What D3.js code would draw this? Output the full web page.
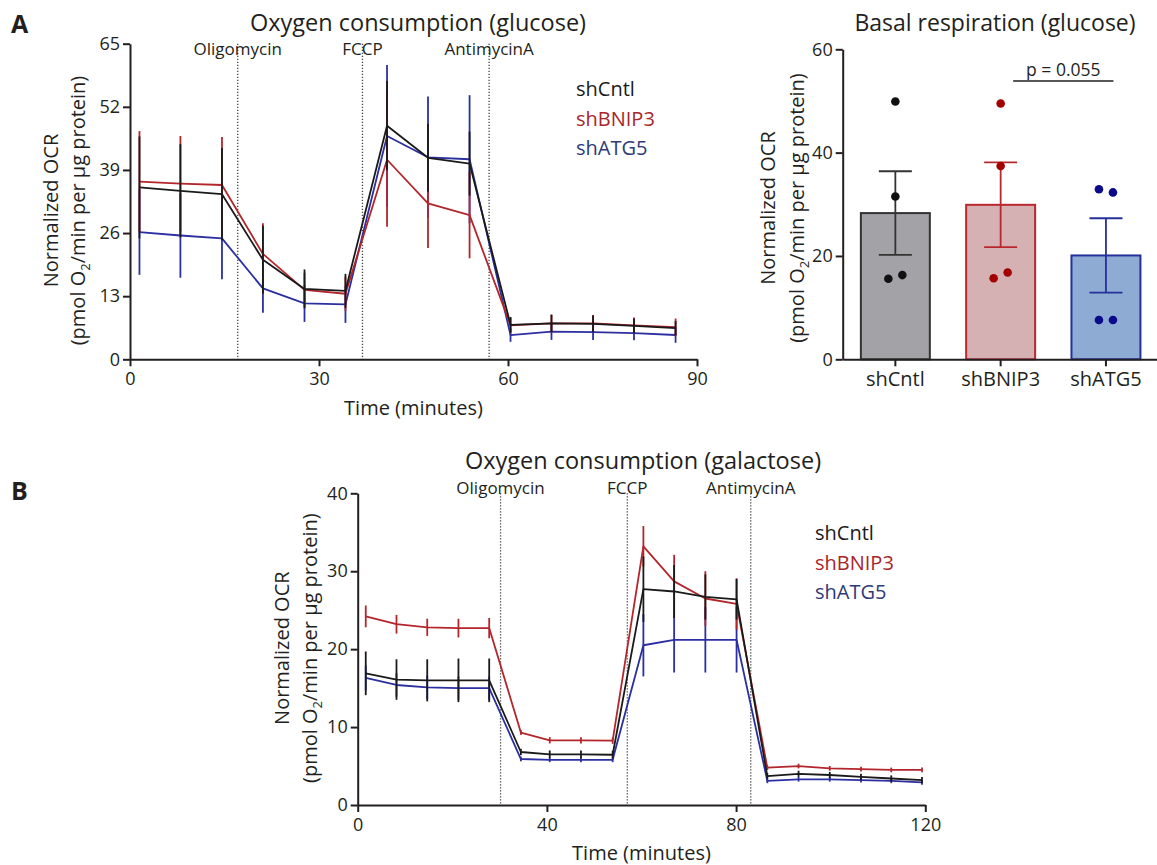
<!DOCTYPE html>
<html>
<head>
<meta charset="utf-8">
<script src="https://cdn.jsdelivr.net/npm/d3@7"></script>
<style>
  html, body { margin: 0; padding: 0; background: #fff; }
  svg text { font-family: "Open Sans", "Noto Sans", sans-serif; }
</style>
</head>
<body>
<svg id="fig" width="1157" height="865"></svg>
<script>
// ---------- Seahorse run, glucose medium (panel A, left) ----------
const timeA  = [1.5, 8.0, 14.6, 21.1, 27.7, 34.2, 40.8, 47.3, 53.9, 60.4, 66.9, 73.5, 80.0, 86.6];
const cntlA  = [35.4, 34.7, 34.0, 20.5, 14.5, 14.1, 48.1, 41.5, 40.3, 7.1, 7.4, 7.3, 6.9, 6.4];
const cntlAErr = [10.5, 9.6, 9.5, 7.0, 4.0, 3.5, 9.2, 7.0, 6.6, 1.6, 1.8, 1.7, 1.5, 1.5];
const bnipA  = [36.6, 36.2, 35.9, 21.7, 14.3, 13.5, 41.1, 32.1, 29.7, 7.0, 7.4, 7.4, 7.0, 6.6];
const bnipAErr = [10.4, 9.8, 9.9, 6.3, 3.5, 3.5, 13.8, 9.2, 8.9, 1.6, 1.8, 1.7, 1.6, 1.8];
const atgA   = [26.2, 25.5, 24.9, 14.6, 11.5, 11.3, 46.0, 41.6, 41.2, 5.0, 5.7, 5.6, 5.4, 5.0];
const atgAErr  = [8.8, 8.7, 8.4, 5.0, 3.8, 3.8, 14.6, 12.5, 13.2, 1.4, 1.7, 1.6, 1.5, 1.6];
const injTimesA = [17.1, 36.9, 57.0];
const xTicksA = [0, 30, 60, 90];
const yTicksA = [0, 13, 26, 39, 52, 65];

// ---------- Basal respiration, glucose (panel A, right) ----------
const groups   = ["shCntl", "shBNIP3", "shATG5"];
const basalMean = [28.3, 29.9, 20.1];
const basalSem  = [8.1, 8.2, 7.2];
const cntlDots = [49.9, 31.5, 15.6, 16.3];
const bnipDots = [49.5, 37.4, 15.7, 16.8];
const atgDots  = [32.9, 32.3, 7.6, 7.6];
const yTicksBar = [0, 20, 40, 60];
const pLabel = "p = 0.055";

// ---------- Seahorse run, galactose medium (panel B) ----------
const timeB  = [1.7, 8.2, 14.7, 21.3, 27.8, 34.5, 40.6, 47.2, 53.9, 60.4, 66.9, 73.5, 80.1, 86.6, 93.2, 99.8, 106.4, 112.8, 119.3];
const cntlB  = [16.9, 16.1, 16.0, 16.0, 16.0, 6.8, 6.5, 6.5, 6.45, 27.7, 27.4, 26.7, 26.4, 3.7, 4.0, 3.85, 3.6, 3.4, 3.2];
const cntlBErr = [2.8, 2.6, 2.7, 2.8, 2.8, 0.4, 0.5, 0.5, 0.5, 4.2, 3.4, 2.9, 2.6, 0.4, 0.4, 0.4, 0.4, 0.4, 0.4];
const bnipB  = [24.2, 23.2, 22.8, 22.7, 22.7, 9.3, 8.3, 8.3, 8.25, 33.2, 28.7, 26.5, 25.8, 4.8, 5.0, 4.7, 4.6, 4.5, 4.5];
const bnipBErr = [1.4, 1.2, 1.1, 1.2, 1.3, 0.3, 0.4, 0.4, 0.4, 2.6, 3.4, 3.5, 3.3, 0.3, 0.3, 0.3, 0.3, 0.3, 0.3];
const atgB   = [16.3, 15.4, 15.1, 15.0, 15.0, 5.9, 5.8, 5.8, 5.8, 20.5, 21.2, 21.2, 21.2, 3.1, 3.3, 3.3, 3.2, 3.1, 2.9];
const atgBErr  = [1.6, 1.5, 1.5, 1.5, 1.5, 0.3, 0.3, 0.3, 0.3, 4.0, 4.2, 4.2, 4.2, 0.3, 0.3, 0.3, 0.3, 0.3, 0.3];
const injTimesB = [30.2, 57.0, 83.1];
const xTicksB = [0, 40, 80, 120];
const yTicksB = [0, 10, 20, 30, 40];

const injections = ["Oligomycin", "FCCP", "AntimycinA"];

// ---------- styling ----------
const INK = "#231f20";
const lineColor = { shCntl: "#1a1a1a", shBNIP3: "#b3262c", shATG5: "#2b2fa0" };
const legendColor = { shCntl: "#1a1a1a", shBNIP3: "#a8262b", shATG5: "#2e3b78" };
const barFill = { shCntl: "#a3a3a7", shBNIP3: "#d6b1b3", shATG5: "#8eabd3" };
const barStroke = { shCntl: "#333333", shBNIP3: "#b8282e", shATG5: "#25309a" };
const dotColor = { shCntl: "#111111", shBNIP3: "#a30000", shATG5: "#0a0a8a" };
const dotOffsets = [[0, 0, -7, 7], [0, 0, -7, 7], [-7, 7, -7, 7]];

const svg = d3.select("#fig").attr("fill", INK);

function styleAxis(g) {
  g.select(".domain").attr("stroke", INK).attr("stroke-width", 2);
  g.selectAll(".tick line").attr("stroke", INK).attr("stroke-width", 2);
  g.selectAll(".tick text").attr("font-size", 18).attr("fill", INK);
}

function yTitle(x1, x2, cy) {
  svg.append("text")
    .attr("transform", `translate(${x1},${cy}) rotate(-90)`)
    .attr("text-anchor", "middle").attr("dy", "0.35em")
    .attr("font-size", 20).text("Normalized OCR");
  const t2 = svg.append("text")
    .attr("transform", `translate(${x2},${cy}) rotate(-90)`)
    .attr("text-anchor", "middle").attr("dy", "0.35em")
    .attr("font-size", 20);
  t2.append("tspan").text("(pmol O");
  t2.append("tspan").attr("font-size", 13).attr("dy", 5).text("2");
  t2.append("tspan").attr("dy", -5).text("/min per µg protein)");
}

function timecourse(cfg) {
  const x = d3.scaleLinear().domain(cfg.xDomain).range(cfg.xRange);
  const y = d3.scaleLinear().domain(cfg.yDomain).range(cfg.yRange);
  const g = svg.append("g");

  // injection markers
  cfg.inj.forEach((t, i) => {
    g.append("line")
      .attr("x1", x(t)).attr("x2", x(t))
      .attr("y1", y(cfg.yDomain[1])).attr("y2", y(0))
      .attr("stroke", "#444").attr("stroke-width", 1.3)
      .attr("stroke-dasharray", "1.3,1.7");
    g.append("text")
      .attr("x", x(t)).attr("y", cfg.injY)
      .attr("text-anchor", "middle").attr("font-size", 17)
      .text(injections[i]);
  });

  // series drawn blue, red, then black on top
  const order = ["shATG5", "shBNIP3", "shCntl"];
  order.forEach(name => {
    const s = cfg.series[name];
    const pts = cfg.time.map((t, i) => ({ t, v: s.mean[i], e: s.err[i] }));
    const col = lineColor[name];
    g.append("path").datum(pts)
      .attr("fill", "none").attr("stroke", col).attr("stroke-width", 1.8)
      .attr("stroke-linejoin", "round")
      .attr("d", d3.line().x(d => x(d.t)).y(d => y(d.v)));
    g.selectAll(null).data(pts).enter().append("line")
      .attr("x1", d => x(d.t)).attr("x2", d => x(d.t))
      .attr("y1", d => y(d.v - d.e)).attr("y2", d => y(d.v + d.e))
      .attr("stroke", col).attr("stroke-width", 1.8);
  });

  const ax = g.append("g").attr("transform", `translate(0,${y(0)})`)
    .call(d3.axisBottom(x).tickValues(cfg.xTicks).tickSize(7).tickSizeOuter(0).tickPadding(6));
  styleAxis(ax);
  const ay = g.append("g").attr("transform", `translate(${x(0)},0)`)
    .call(d3.axisLeft(y).tickValues(cfg.yTicks).tickSize(7).tickSizeOuter(0).tickPadding(3));
  styleAxis(ay);

  svg.append("text").attr("x", cfg.titleX).attr("y", cfg.titleY)
    .attr("text-anchor", "middle").attr("font-size", 23.5).text(cfg.title);
  svg.append("text").attr("x", d3.mean(cfg.xRange)).attr("y", cfg.xTitleY)
    .attr("text-anchor", "middle").attr("font-size", 20).text("Time (minutes)");
  yTitle(cfg.yT[0], cfg.yT[1], d3.mean(cfg.yRange) + cfg.yT[2]);

  groups.forEach((name, i) => {
    svg.append("text").attr("x", cfg.legX).attr("y", cfg.legY + i * 29.5)
      .attr("font-size", 20).attr("fill", legendColor[name]).text(name);
  });
}

// Panel A, left
timecourse({
  time: timeA, xDomain: [0, 90], xRange: [130, 697], yDomain: [0, 65], yRange: [359.3, 43.7],
  xTicks: xTicksA, yTicks: yTicksA, inj: injTimesA, injY: 55,
  series: {
    shCntl: { mean: cntlA, err: cntlAErr },
    shBNIP3: { mean: bnipA, err: bnipAErr },
    shATG5: { mean: atgA, err: atgAErr }
  },
  title: "Oxygen consumption (glucose)", titleX: 418, titleY: 31, xTitleY: 415,
  yT: [51, 78, 9], legX: 576, legY: 96
});

// Panel B
timecourse({
  time: timeB, xDomain: [0, 120], xRange: [357.7, 925.3], yDomain: [0, 40], yRange: [805, 493.3],
  xTicks: xTicksB, yTicks: yTicksB, inj: injTimesB, injY: 494,
  series: {
    shCntl: { mean: cntlB, err: cntlBErr },
    shBNIP3: { mean: bnipB, err: bnipBErr },
    shATG5: { mean: atgB, err: atgBErr }
  },
  title: "Oxygen consumption (galactose)", titleX: 643, titleY: 469, xTitleY: 860,
  yT: [282, 310, -1], legX: 815, legY: 540
});

// Panel A, right: basal respiration bars with individual replicates
(function () {
  const x = d3.scaleBand().domain(groups).range([842.7, 1158.6]).paddingInner(0.345).paddingOuter(0.1725);
  const y = d3.scaleLinear().domain([0, 60]).range([359.3, 49.3]);
  const g = svg.append("g");
  const dots = [cntlDots, bnipDots, atgDots];
  const bw = x.bandwidth();

  groups.forEach((name, i) => {
    const cx = x(name) + bw / 2;
    g.append("rect")
      .attr("x", x(name)).attr("width", bw)
      .attr("y", y(basalMean[i])).attr("height", y(0) - y(basalMean[i]))
      .attr("fill", barFill[name]).attr("stroke", barStroke[name]).attr("stroke-width", 2);
    const lo = basalMean[i] - basalSem[i], hi = basalMean[i] + basalSem[i];
    g.append("line").attr("x1", cx).attr("x2", cx).attr("y1", y(lo)).attr("y2", y(hi))
      .attr("stroke", barStroke[name]).attr("stroke-width", 1.8);
    [lo, hi].forEach(v => {
      g.append("line").attr("x1", cx - 16.5).attr("x2", cx + 16.5).attr("y1", y(v)).attr("y2", y(v))
        .attr("stroke", barStroke[name]).attr("stroke-width", 1.8);
    });
    g.selectAll(null).data(dots[i]).enter().append("circle")
      .attr("cx", (d, j) => cx + dotOffsets[i][j]).attr("cy", d => y(d)).attr("r", 4.3)
      .attr("fill", dotColor[name]);
  });

  const ax = g.append("g").attr("transform", `translate(0,${y(0)})`)
    .call(d3.axisBottom(x).tickSize(7).tickSizeOuter(0).tickPadding(6));
  styleAxis(ax);
  ax.selectAll(".tick text").attr("font-size", 20);
  const ay = g.append("g").attr("transform", `translate(842.7,0)`)
    .call(d3.axisLeft(y).tickValues(yTicksBar).tickSize(7).tickSizeOuter(0).tickPadding(3));
  styleAxis(ay);

  // significance bracket between shBNIP3 and shATG5
  const bx1 = x("shBNIP3") + bw / 2 + 12.5, bx2 = x("shATG5") + bw / 2 + 7.5;
  g.append("line").attr("x1", bx1).attr("x2", bx2).attr("y1", 81).attr("y2", 81)
    .attr("stroke", INK).attr("stroke-width", 1.5);
  g.append("text").attr("x", (bx1 + bx2) / 2).attr("y", 76)
    .attr("text-anchor", "middle").attr("font-size", 17.5).text(pLabel);

  svg.append("text").attr("x", 995).attr("y", 31).attr("text-anchor", "middle")
    .attr("font-size", 23).text("Basal respiration (glucose)");
  yTitle(768, 797, 208);
})();

// panel letters
svg.append("text").attr("x", 11).attr("y", 33).attr("font-size", 25).attr("font-weight", 700).text("A");
svg.append("text").attr("x", 11).attr("y", 500).attr("font-size", 25).attr("font-weight", 700).text("B");
</script>
</body>
</html>
